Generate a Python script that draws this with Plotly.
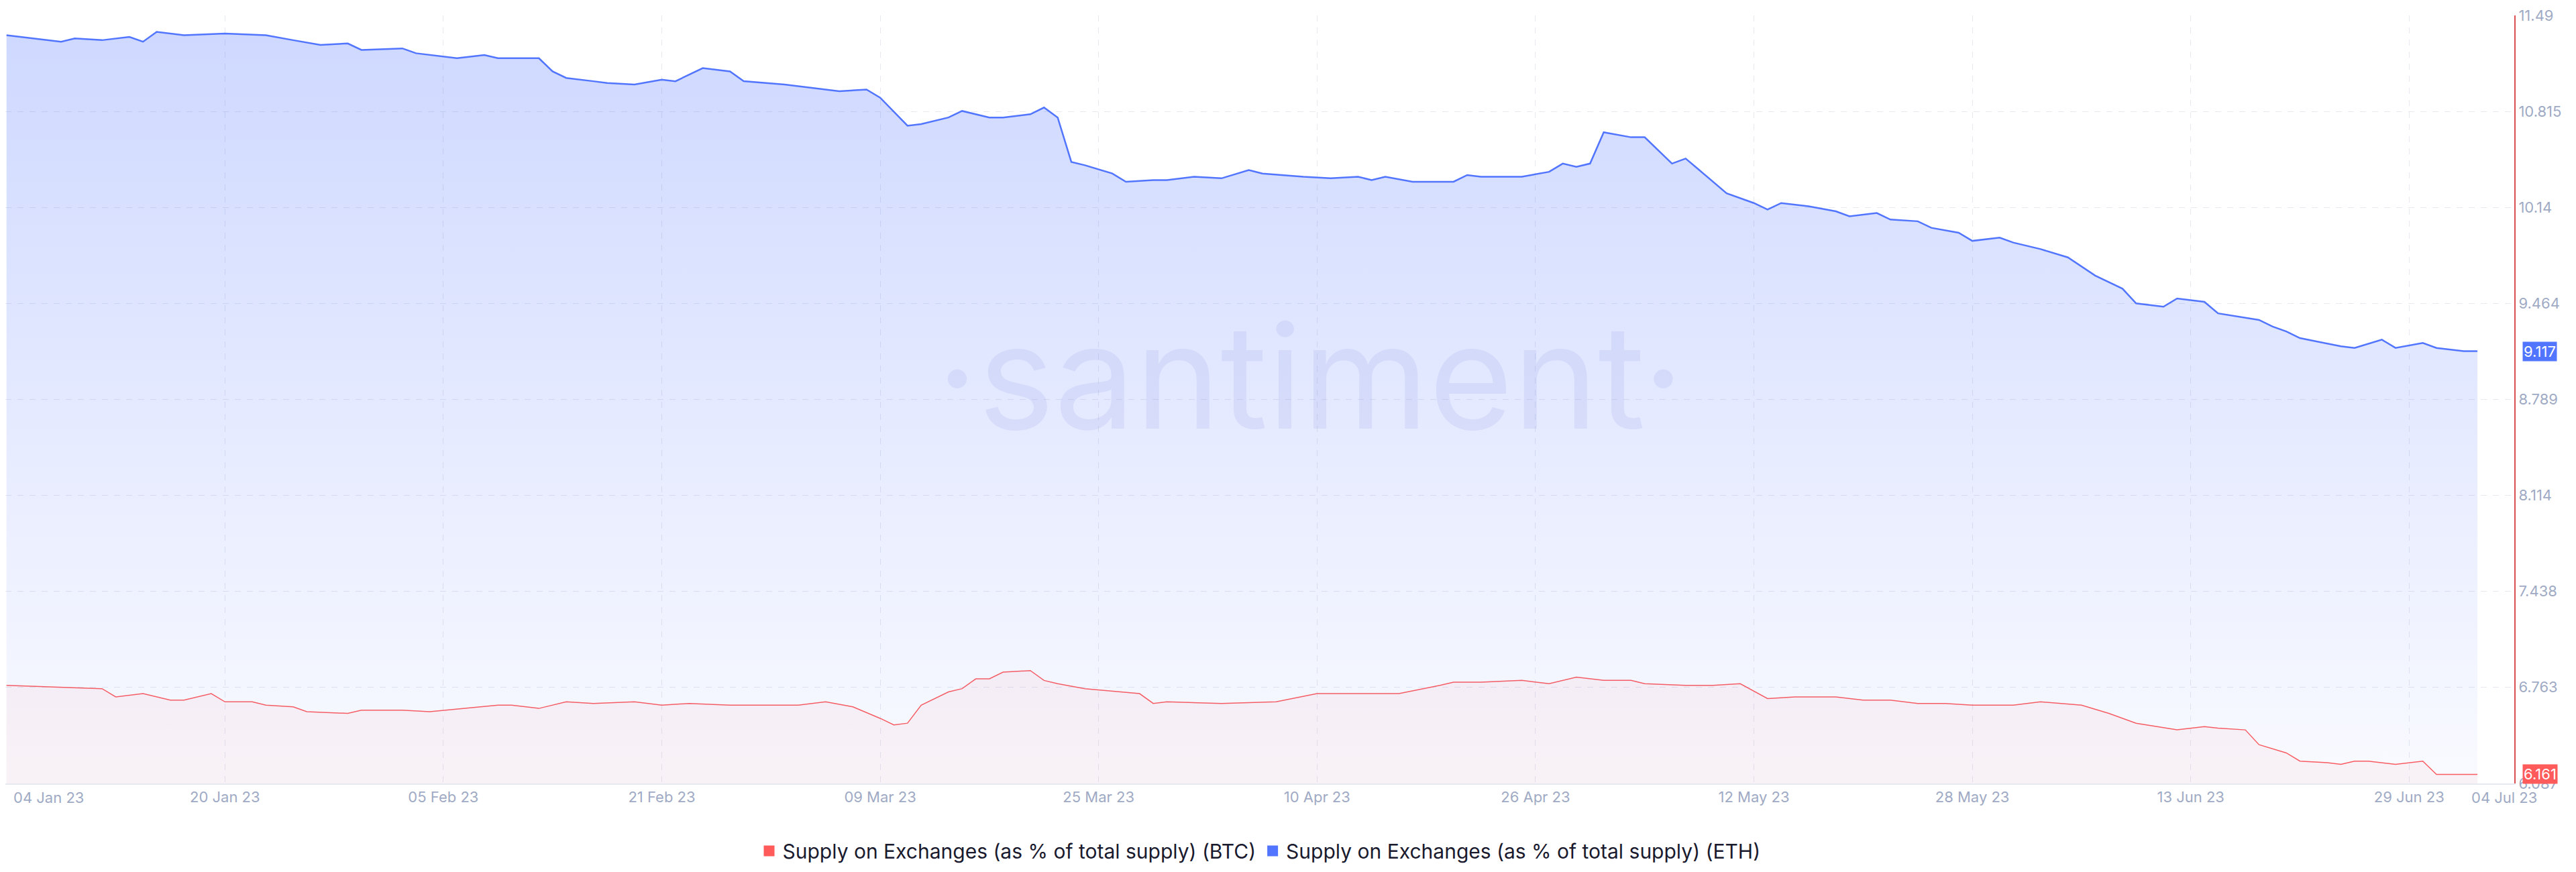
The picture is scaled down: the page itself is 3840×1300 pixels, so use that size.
import plotly.graph_objects as go
import pandas as pd

start = pd.Timestamp("2023-01-04")

eth_days = [0,4,5,7,9,10,11,13,16,19,21,23,25,26,29,30,33,35,36,39,40,41,43,44,46,48,49,51,53,54,57,59,61,63,64,66,67,69,70,72,73,75,76,77,78,79,81,82,84,85,87,89,91,92,95,97,99,100,101,103,106,107,108,111,113,114,115,116,117,119,120,122,123,124,126,128,129,130,132,134,135,137,138,140,141,143,144,146,147,149,151,153,155,156,158,159,161,162,165,166,167,168,171,172,174,175,177,178,180,181]
eth_vals = [11.351,11.305,11.328,11.316,11.339,11.305,11.374,11.351,11.363,11.351,11.316,11.282,11.293,11.247,11.258,11.224,11.189,11.212,11.189,11.189,11.096,11.050,11.027,11.015,11.004,11.038,11.027,11.119,11.096,11.027,11.004,10.980,10.957,10.969,10.911,10.714,10.726,10.772,10.818,10.772,10.772,10.795,10.842,10.772,10.459,10.436,10.378,10.320,10.332,10.332,10.355,10.344,10.402,10.378,10.355,10.344,10.355,10.332,10.355,10.320,10.320,10.367,10.355,10.355,10.390,10.448,10.425,10.448,10.668,10.633,10.633,10.448,10.483,10.402,10.239,10.170,10.124,10.170,10.147,10.112,10.077,10.100,10.054,10.042,9.996,9.961,9.904,9.927,9.892,9.846,9.788,9.660,9.568,9.464,9.441,9.499,9.475,9.394,9.348,9.301,9.267,9.220,9.162,9.151,9.209,9.151,9.186,9.151,9.128,9.128]

btc_days = [0,4,7,8,10,12,13,15,16,18,19,21,22,25,26,29,31,36,37,39,41,43,46,48,50,53,57,58,60,62,64,65,66,67,69,70,71,72,73,75,76,77,79,83,84,85,89,93,96,98,100,102,105,106,108,111,113,115,117,119,120,123,125,127,129,131,134,136,138,140,142,144,147,149,152,154,156,159,161,162,164,165,167,168,170,171,172,173,175,177,178,179,181]
btc_vals = [6.777,6.765,6.754,6.696,6.719,6.673,6.673,6.719,6.661,6.661,6.638,6.626,6.592,6.580,6.603,6.603,6.592,6.638,6.638,6.615,6.661,6.650,6.661,6.638,6.650,6.638,6.638,6.638,6.661,6.626,6.545,6.499,6.511,6.638,6.731,6.754,6.823,6.823,6.870,6.881,6.812,6.789,6.754,6.719,6.650,6.661,6.650,6.661,6.719,6.719,6.719,6.719,6.777,6.800,6.800,6.812,6.789,6.835,6.812,6.812,6.789,6.777,6.777,6.789,6.684,6.696,6.696,6.673,6.673,6.650,6.650,6.638,6.638,6.661,6.638,6.580,6.511,6.464,6.487,6.476,6.464,6.360,6.302,6.244,6.233,6.221,6.244,6.244,6.221,6.244,6.151,6.151,6.151]

tick_vals = [6.087,6.763,7.438,8.114,8.789,9.464,10.14,10.815,11.49]
tick_text = ["6.087","6.763","7.438","8.114","8.789","9.464","10.14","10.815","11.49"]
x_ticks = ["2023-01-20","2023-02-05","2023-02-21","2023-03-09","2023-03-25","2023-04-10","2023-04-26","2023-05-12","2023-05-28","2023-06-13","2023-06-29"]
x_labels = ["20 Jan 23","05 Feb 23","21 Feb 23","09 Mar 23","25 Mar 23","10 Apr 23","26 Apr 23","12 May 23","28 May 23","13 Jun 23","29 Jun 23"]
first_label = "04 Jan 23"
last_label = "04 Jul 23"

eth_x = [start + pd.Timedelta(days=d) for d in eth_days]
btc_x = [start + pd.Timedelta(days=d) for d in btc_days]
BTC_NAME = "Supply on Exchanges (as % of total supply) (BTC)"
ETH_NAME = "Supply on Exchanges (as % of total supply) (ETH)"

fig = go.Figure()
fig.add_trace(go.Scatter(x=btc_x, y=btc_vals, mode="lines", showlegend=False,
    line=dict(color="#ff5b5b", width=1.5), fill="tozeroy",
    fillgradient=dict(type="vertical", colorscale=[[0, "rgba(255,91,91,0)"], [1, "rgba(255,91,91,0.06)"]])))
fig.add_trace(go.Scatter(x=eth_x, y=eth_vals, mode="lines", showlegend=False,
    line=dict(color="#5275ff", width=2.5), fill="tozeroy",
    fillgradient=dict(type="vertical", colorscale=[[0, "rgba(82,117,255,0.0)"], [0.55, "rgba(82,117,255,0.04)"], [1, "rgba(82,117,255,0.28)"]])))
fig.add_trace(go.Scatter(x=[None], y=[None], mode="markers", name=BTC_NAME,
    marker=dict(symbol="square", color="#ff5b5b", size=18)))
fig.add_trace(go.Scatter(x=[None], y=[None], mode="markers", name=ETH_NAME,
    marker=dict(symbol="square", color="#5275ff", size=18)))

fig.update_layout(
    width=3840, height=1300, paper_bgcolor="white", plot_bgcolor="white",
    margin=dict(l=0, r=100, t=15, b=140),
    font=dict(family="Inter, Roboto, sans-serif", color="#9faac4", size=22),
    showlegend=True,
    legend=dict(orientation="h", x=0.5, xanchor="center", y=-0.065, yanchor="top",
                font=dict(size=30, color="#1a1a2e"), itemwidth=30),
    xaxis=dict(range=[start - pd.Timedelta(hours=2), start + pd.Timedelta(days=183.7)],
               tickvals=x_ticks, ticktext=x_labels, tickangle=0, showgrid=True, gridcolor="#e6e9f0", griddash="dash",
               showline=True, linecolor="#e6e9f0", linewidth=2, ticks="", tickfont=dict(size=22, color="#9faac4")),
    yaxis=dict(range=[6.087, 11.49], side="right", tickvals=tick_vals, ticktext=tick_text,
               showgrid=True, gridcolor="#e6e9f0", griddash="dash", zeroline=False,
               showline=True, linecolor="#d94f4f", linewidth=2, ticks="", tickfont=dict(size=22, color="#9faac4")),
)

fig.add_annotation(text=first_label, x=start, xref="x", y=0, yref="paper", yanchor="top", xanchor="left",
                   yshift=-6, xshift=8, showarrow=False, font=dict(size=22, color="#9faac4"))
fig.add_annotation(text=last_label, x=start + pd.Timedelta(days=181), xref="x", y=0, yref="paper", yanchor="top",
                   xanchor="center", yshift=-6, xshift=40, showarrow=False, font=dict(size=22, color="#9faac4"))
fig.add_annotation(text="·santiment·", x=0.52, y=0.53, xref="paper", yref="paper", showarrow=False,
                   font=dict(size=215, color="rgba(120,135,215,0.13)", family="Inter, sans-serif"))
fig.add_annotation(text="9.117", x=1.0, xref="paper", y=eth_vals[-1], yref="y", xanchor="left", xshift=12,
                   showarrow=False, bgcolor="#5275ff", font=dict(color="white", size=22))
fig.add_annotation(text="6.161", x=1.0, xref="paper", y=btc_vals[-1], yref="y", xanchor="left", xshift=12,
                   showarrow=False, bgcolor="#ff5b5b", font=dict(color="white", size=22))

fig.write_html("out.html")
